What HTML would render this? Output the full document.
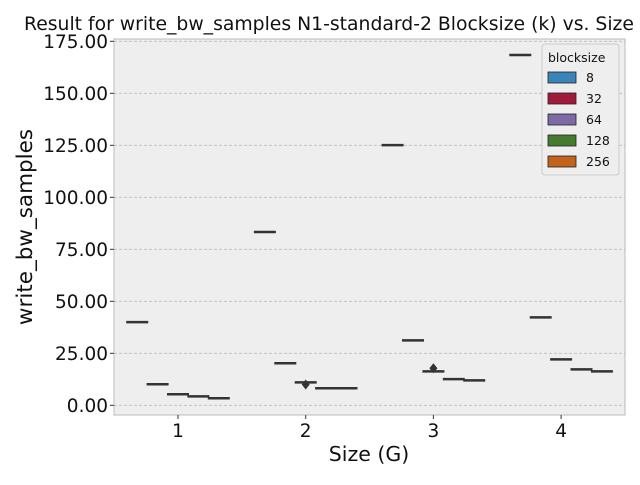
<!DOCTYPE html>
<html><head><meta charset="utf-8"><style>
body{margin:0;background:#fff;font-family:"Liberation Sans","DejaVu Sans",sans-serif;}
svg text{font-family:"DejaVu Sans","Liberation Sans",sans-serif;}
</style></head><body>
<svg id="c" width="640" height="480" xmlns="http://www.w3.org/2000/svg">
<rect x="114" y="39" width="511" height="376" fill="#eeeeee" stroke="#bbbbbb"/>
<g id="grid"></g><g id="marks"></g>
<text x="24" y="30" font-size="18.8" fill="#111">Result for write_bw_samples N1-standard-2 Blocksize (k) vs. Size (G)</text>
<text x="369" y="461" font-size="20.5" text-anchor="middle" fill="#111">Size (G)</text>
<text transform="translate(32,227) rotate(-90)" font-size="21.5" text-anchor="middle" fill="#111">write_bw_samples</text>
<g>
<rect x="542" y="44" width="77" height="131" rx="3" fill="#eeeeee" stroke="#cccccc"/>
<text x="548" y="62" font-size="12.5" fill="#111">blocksize</text>
<g id="leg"></g>
</g>
</svg>
<script>
const categories=["1","2","3","4"];
const hues=["8","32","64","128","256"];
const colors=["#3a84b8","#a01b3b","#7c6aa6","#467a2e","#c3621a"];
const s8=[40,83.3,125.1,168.4];
const s32=[10.1,20.2,31.2,42.3];
const s64=[5.3,11,16.3,22.1];
const s128=[4.3,8.2,12.6,17.3];
const s256=[3.4,8.2,12.0,16.3];
const series=[s8,s32,s64,s128,s256];
const outliers=[{cat:1,hue:2,v:10},{cat:2,hue:2,v:17.8}];
const yTicks=[0,25,50,75,100,125,150,175];
const NS="http://www.w3.org/2000/svg";
const y=v=>405.3-v*2.08;
const xc=i=>178+i*127.7;
const hx=(i,h)=>xc(i)+(h-2)*20.4;
function mk(t,a,p){const e=document.createElementNS(NS,t);for(const k in a)e.setAttribute(k,a[k]);p.appendChild(e);return e;}
const grid=document.getElementById('grid'),marks=document.getElementById('marks');
yTicks.forEach(t=>{
 const l=mk('line',{x1:114,x2:625,y1:y(t),y2:y(t),stroke:'#bcbcbc','stroke-dasharray':'3,2','stroke-width':0.8},grid);
 
 mk('line',{x1:110,x2:114,y1:y(t),y2:y(t),stroke:'#333'},grid);
 const tx=mk('text',{x:108,y:y(t)+6.5,'font-size':18.5,'text-anchor':'end',fill:'#111'},grid);tx.textContent=t.toFixed(2);
 
});
categories.forEach((c,i)=>{
 mk('line',{x1:xc(i),x2:xc(i),y1:415,y2:419,stroke:'#333'},grid);
 const tx=mk('text',{x:xc(i),y:437,'font-size':18.5,'text-anchor':'middle',fill:'#111'},grid);tx.textContent=c;
 
});
series.forEach((s,h)=>s.forEach((v,i)=>{
 const l=mk('line',{x1:hx(i,h)-11,x2:hx(i,h)+11,y1:y(v),y2:y(v),stroke:'#333','stroke-width':2.5},marks);
 
}));
outliers.forEach(o=>{
 const cx=hx(o.cat,o.hue),cy=y(o.v);
 const p=mk('path',{d:`M${cx} ${cy-5}L${cx+4} ${cy}L${cx} ${cy+5}L${cx-4} ${cy}Z`,fill:'#333'},marks);
 
});
const leg=document.getElementById('leg');
hues.forEach((h,k)=>{
 const yy=72+k*21;
 const r=mk('rect',{x:548,y:yy,width:28,height:11,fill:colors[k],stroke:'#222','stroke-width':0.8},leg);
 
 const t=mk('text',{x:586,y:yy+10,'font-size':12.5,fill:'#111'},leg);t.textContent=h;
 
});
</script>
</body></html>
